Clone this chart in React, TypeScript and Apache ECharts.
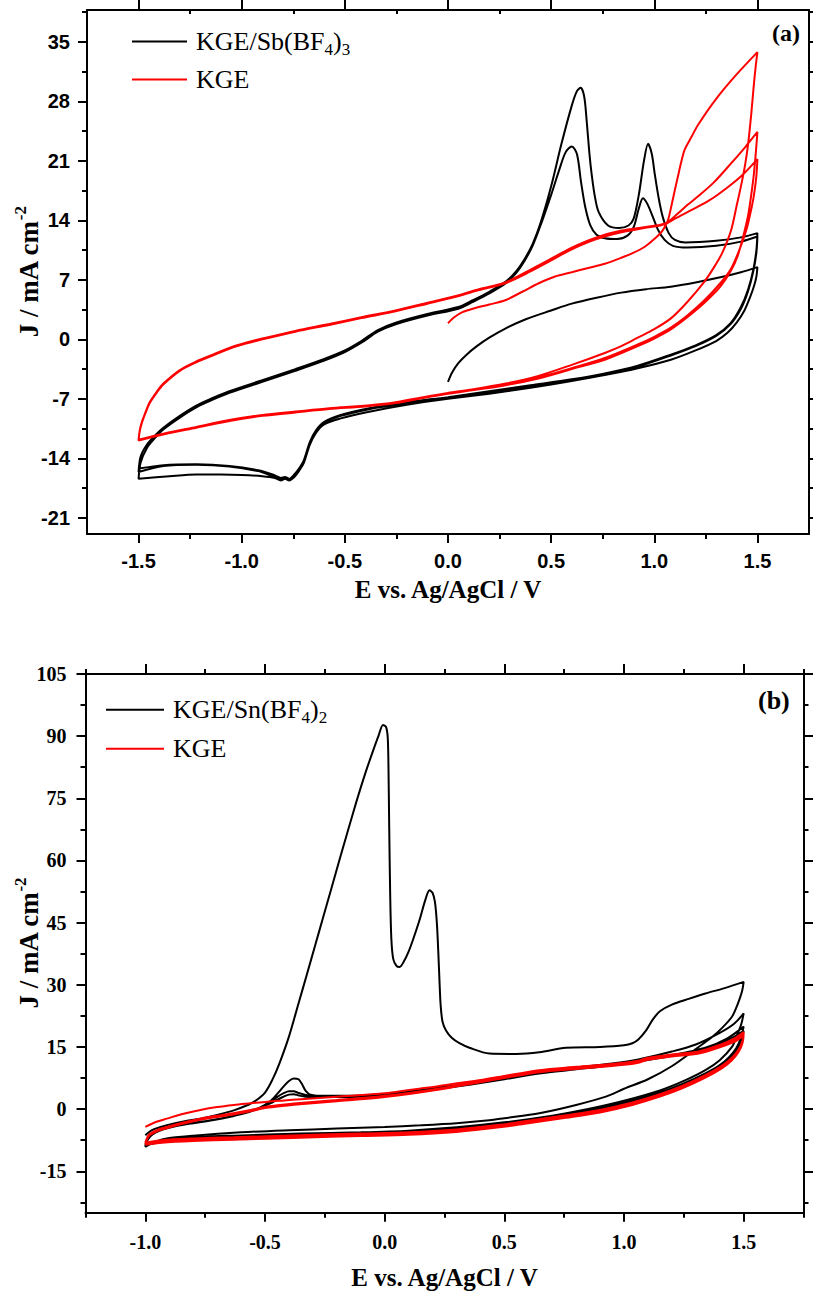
import React, { useEffect, useRef } from 'react';
import * as echarts from 'echarts';

type Pt = [number, number];

// ---------- Panel (a): potential sweeps, E (V) vs J (mA cm^-2) ----------
// KGE/Sb(BF4)3
const sbStartSweep: Pt[] = [[0.0,-5.0],[0.02,-3.9],[0.05,-2.8],[0.09,-1.8],[0.14,-0.8],[0.2,0.2],[0.28,1.3],[0.38,2.4],[0.5,3.4],[0.6,4.2],[0.72,4.9],[0.84,5.5],[0.96,5.9],[1.08,6.2],[1.2,6.7],[1.32,7.3],[1.42,7.9],[1.5,8.5]];
const sbReturn1: Pt[] = [[1.5,8.5],[1.495,7.4],[1.485,6.4],[1.465,5.0],[1.437,3.4],[1.4,2.0],[1.356,0.8],[1.3,-0.2],[1.2,-1.3],[1.08,-2.4],[0.92,-3.4],[0.76,-4.2],[0.6,-4.9],[0.4,-5.7],[0.2,-6.4],[0.0,-7.0],[-0.2,-7.7],[-0.4,-8.6],[-0.52,-9.3],[-0.6,-10.0],[-0.64,-11.0],[-0.67,-12.4],[-0.7,-14.6],[-0.72,-15.4],[-0.745,-16.2],[-0.77,-16.6],[-0.79,-16.4],[-0.81,-16.6],[-0.84,-16.3],[-0.9,-16.1],[-1.0,-15.95],[-1.1,-15.9],[-1.22,-15.9],[-1.35,-16.1],[-1.5,-16.4]];
const sbSweep1: Pt[] = [[-1.5,-16.4],[-1.49,-14.5],[-1.46,-12.8],[-1.42,-11.6],[-1.38,-10.6],[-1.3,-9.2],[-1.22,-8.0],[-1.14,-7.1],[-1.06,-6.3],[-0.9,-5.0],[-0.74,-3.7],[-0.6,-2.5],[-0.5,-1.5],[-0.42,-0.4],[-0.34,0.9],[-0.25,1.8],[-0.1,2.8],[0.05,3.6],[0.12,4.4],[0.2,5.4],[0.28,6.6],[0.33,7.8],[0.37,9.2],[0.41,11.0],[0.45,13.5],[0.5,17.0],[0.54,20.0],[0.57,22.0],[0.6,22.7],[0.625,21.8],[0.645,18.5],[0.665,15.6],[0.69,13.4],[0.72,12.3],[0.76,11.9],[0.82,11.8],[0.87,12.2],[0.9,13.2],[0.925,15.4],[0.945,16.6],[0.965,16.0],[0.99,14.6],[1.02,12.8],[1.05,11.7],[1.09,11.0],[1.16,10.8],[1.3,11.0],[1.42,11.5],[1.5,12.1]];
const sbReturn2: Pt[] = [[1.5,12.1],[1.495,10.2],[1.48,8.0],[1.455,5.7],[1.42,3.6],[1.37,1.8],[1.3,0.4],[1.2,-0.8],[1.08,-1.9],[0.92,-3.2],[0.76,-4.1],[0.6,-4.8],[0.4,-5.5],[0.2,-6.2],[0.0,-6.9],[-0.2,-7.5],[-0.4,-8.3],[-0.52,-9.0],[-0.6,-9.8],[-0.64,-10.8],[-0.67,-12.2],[-0.7,-14.4],[-0.72,-15.2],[-0.745,-16.0],[-0.77,-16.5],[-0.79,-16.3],[-0.81,-16.4],[-0.86,-16.0],[-0.92,-15.5],[-1.06,-14.95],[-1.22,-14.75],[-1.38,-14.9],[-1.5,-15.6]];
const sbSweep2: Pt[] = [[-1.5,-15.6],[-1.49,-13.8],[-1.46,-12.4],[-1.42,-11.3],[-1.38,-10.4],[-1.3,-9.0],[-1.22,-7.8],[-1.14,-6.9],[-1.06,-6.1],[-0.9,-4.8],[-0.74,-3.5],[-0.6,-2.3],[-0.5,-1.3],[-0.42,-0.2],[-0.34,1.1],[-0.25,2.0],[-0.1,3.0],[0.05,3.8],[0.12,4.6],[0.2,5.6],[0.28,6.8],[0.33,8.0],[0.37,9.4],[0.41,11.2],[0.45,13.8],[0.5,18.0],[0.55,23.0],[0.6,27.5],[0.625,29.2],[0.643,29.6],[0.66,28.6],[0.672,25.8],[0.685,22.0],[0.696,19.5],[0.712,16.8],[0.73,15.0],[0.776,13.4],[0.83,13.1],[0.875,13.4],[0.9,14.2],[0.925,17.0],[0.95,21.0],[0.97,23.0],[0.988,21.8],[1.002,19.5],[1.02,16.8],[1.04,14.5],[1.07,12.5],[1.1,11.7],[1.15,11.4],[1.3,11.6],[1.42,12.0],[1.5,12.5]];
const sbReturn3: Pt[] = [[1.5,12.5],[1.495,10.5],[1.48,8.2],[1.455,5.9],[1.42,3.8],[1.37,1.9],[1.3,0.5],[1.2,-0.7],[1.08,-1.8],[0.92,-3.1],[0.76,-4.0],[0.6,-4.7],[0.4,-5.4],[0.2,-6.1],[0.0,-6.8],[-0.2,-7.4],[-0.4,-8.2],[-0.52,-8.9],[-0.6,-9.7],[-0.64,-10.7],[-0.67,-12.1],[-0.7,-14.3],[-0.72,-15.1],[-0.745,-15.9],[-0.77,-16.4],[-0.79,-16.2],[-0.81,-16.3],[-0.85,-15.9],[-0.92,-15.4],[-1.06,-14.9],[-1.22,-14.7],[-1.38,-14.8],[-1.5,-15.2]];

// KGE
const kgeStartSweep: Pt[] = [[0.0,1.9],[0.03,2.6],[0.07,3.2],[0.12,3.6],[0.2,4.1],[0.277,4.6],[0.36,5.6],[0.44,6.6],[0.519,7.4],[0.6,7.9],[0.68,8.4],[0.76,8.9],[0.84,9.6],[0.9,10.2],[0.954,10.9],[1.0,11.8],[1.04,12.8],[1.066,14.0],[1.082,15.6],[1.1,17.6],[1.114,19.1],[1.13,20.8],[1.147,22.3],[1.18,23.8],[1.211,25.2],[1.3,28.3],[1.4,31.2],[1.5,33.8]];
const kgeReturn1: Pt[] = [[1.5,33.8],[1.492,32.2],[1.482,29.8],[1.47,26.5],[1.455,23.0],[1.44,20.5],[1.42,18.0],[1.4,15.8],[1.372,12.8],[1.33,10.2],[1.29,8.5],[1.243,6.8],[1.16,4.4],[1.082,2.5],[1.0,1.2],[0.92,0.2],[0.84,-0.8],[0.76,-1.6],[0.6,-3.0],[0.438,-4.3],[0.28,-5.2],[0.116,-5.9],[0.0,-6.3],[-0.12,-6.8],[-0.254,-7.4],[-0.4,-7.8],[-0.576,-8.1],[-0.74,-8.5],[-0.899,-8.9],[-1.06,-9.5],[-1.22,-10.3],[-1.38,-11.1],[-1.5,-11.8]];
const kgeSweep1: Pt[] = [[-1.5,-11.8],[-1.495,-10.8],[-1.485,-9.8],[-1.47,-8.8],[-1.446,-7.4],[-1.41,-6.1],[-1.38,-5.2],[-1.3,-3.6],[-1.22,-2.6],[-1.14,-1.8],[-1.06,-1.0],[-0.98,-0.4],[-0.899,0.1],[-0.74,1.0],[-0.576,1.8],[-0.42,2.6],[-0.254,3.4],[-0.1,4.3],[0.052,5.2],[0.15,5.9],[0.277,6.7],[0.4,8.2],[0.5,9.5],[0.6,10.8],[0.72,12.0],[0.841,12.8],[0.95,13.2],[1.03,13.5],[1.066,13.8],[1.114,14.8],[1.16,15.8],[1.211,16.8],[1.29,18.5],[1.372,20.7],[1.44,22.6],[1.5,24.4]];
const kgeReturn2: Pt[] = [[1.5,24.4],[1.493,22.2],[1.483,19.5],[1.47,17.0],[1.455,14.6],[1.43,12.0],[1.404,9.8],[1.37,8.0],[1.32,6.2],[1.243,4.3],[1.16,2.6],[1.082,1.2],[1.0,0.1],[0.92,-0.8],[0.76,-2.4],[0.6,-3.5],[0.438,-4.6],[0.28,-5.4],[0.116,-6.0],[0.0,-6.4],[-0.12,-6.9],[-0.254,-7.5],[-0.4,-7.9],[-0.576,-8.2],[-0.74,-8.6],[-0.899,-9.0],[-1.06,-9.6],[-1.22,-10.4],[-1.38,-11.2],[-1.5,-11.9]];
const kgeSweep2: Pt[] = [[-1.5,-11.9],[-1.495,-10.9],[-1.485,-9.9],[-1.47,-8.9],[-1.446,-7.5],[-1.41,-6.2],[-1.38,-5.3],[-1.3,-3.7],[-1.22,-2.7],[-1.14,-1.9],[-1.06,-1.1],[-0.98,-0.5],[-0.899,0.0],[-0.74,0.9],[-0.576,1.7],[-0.42,2.5],[-0.254,3.3],[-0.1,4.2],[0.052,5.1],[0.15,5.8],[0.277,6.6],[0.4,8.0],[0.5,9.3],[0.6,10.6],[0.72,11.8],[0.841,12.6],[0.95,13.1],[1.03,13.4],[1.066,13.7],[1.1,14.2],[1.179,15.2],[1.27,16.4],[1.356,17.9],[1.43,19.4],[1.5,21.2]];
const kgeReturn3: Pt[] = [[1.5,21.2],[1.494,19.0],[1.482,16.8],[1.469,15.2],[1.45,13.2],[1.42,11.0],[1.372,8.3],[1.32,6.6],[1.243,4.6],[1.16,2.8],[1.082,1.4],[1.0,0.3],[0.92,-0.6],[0.76,-2.2],[0.6,-3.4],[0.438,-4.5],[0.28,-5.3],[0.116,-5.95],[0.0,-6.35],[-0.254,-7.45],[-0.576,-8.15],[-0.899,-8.95],[-1.22,-10.35],[-1.38,-11.15],[-1.5,-11.85]];

// ---------- Panel (b) ----------
// KGE/Sn(BF4)2
const snStartSweep: Pt[] = [[-1.0,-6.3],[-0.97,-5.0],[-0.91,-3.9],[-0.84,-3.0],[-0.77,-2.3],[-0.7,-1.4],[-0.63,-0.3],[-0.58,0.8],[-0.54,2.0],[-0.5,4.0],[-0.47,7.0],[-0.44,11.0],[-0.4,17.5],[-0.36,25.5],[-0.326,32.3],[-0.29,39.6],[-0.257,46.3],[-0.22,53.8],[-0.1875,60.4],[-0.15,67.9],[-0.118,74.2],[-0.08,81.2],[-0.049,86.4],[-0.025,90.2],[-0.007,92.7],[0.006,92.2],[0.013,89.5],[0.016,82.0],[0.019,68.0],[0.023,52.0],[0.028,41.0],[0.036,36.2],[0.05,34.5],[0.0625,34.3],[0.08,35.6],[0.1,38.0],[0.118,40.8],[0.145,45.5],[0.17,50.5],[0.1875,52.8],[0.2,52.2],[0.21,50.0],[0.218,45.0],[0.224,38.0],[0.229,31.0],[0.234,25.0],[0.242,21.0],[0.257,18.9],[0.28,17.2],[0.3125,15.9],[0.354,14.8],[0.4375,13.4],[0.55,13.3],[0.646,13.7],[0.757,14.8],[0.9,15.0],[1.0,15.4],[1.035,15.9],[1.06,16.8],[1.09,18.8],[1.12,21.6],[1.15,23.6],[1.2,25.2],[1.27,26.6],[1.34,27.9],[1.42,29.2],[1.5,30.7]];
const snReturn1: Pt[] = [[1.5,30.7],[1.494,28.6],[1.486,27.1],[1.47,24.6],[1.451,22.3],[1.41,19.6],[1.368,17.4],[1.3,14.5],[1.201,10.4],[1.1,7.2],[1.0,4.9],[0.924,3.0],[0.8,1.0],[0.646,-1.0],[0.5,-2.2],[0.4375,-2.7],[0.3,-3.4],[0.15,-3.9],[0.0,-4.3],[-0.2,-4.7],[-0.4,-5.1],[-0.6,-5.6],[-0.8,-6.4],[-0.9,-7.0],[-0.96,-7.9],[-1.0,-9.1]];
const snSweep1: Pt[] = [[-1.0,-9.1],[-0.99,-7.4],[-0.97,-6.1],[-0.93,-5.0],[-0.87,-4.1],[-0.8,-3.4],[-0.72,-2.7],[-0.64,-1.8],[-0.57,-0.8],[-0.52,0.4],[-0.48,1.8],[-0.45,3.6],[-0.42,5.6],[-0.4,6.8],[-0.38,7.4],[-0.36,7.2],[-0.345,6.0],[-0.33,4.4],[-0.31,3.5],[-0.25,3.2],[-0.1,3.3],[0.0,3.6],[0.1,4.2],[0.229,5.2],[0.354,6.2],[0.5,7.6],[0.646,9.0],[0.8,10.0],[0.95,11.0],[1.06,12.0],[1.2,13.9],[1.3,15.6],[1.4,18.4],[1.46,20.6],[1.5,23.1]];
const snReturn2: Pt[] = [[1.5,23.1],[1.49,20.5],[1.47,17.5],[1.451,15.0],[1.4,11.8],[1.34,9.4],[1.25,6.8],[1.15,4.5],[1.0,2.0],[0.85,0.0],[0.7,-1.6],[0.5,-3.2],[0.3,-4.4],[0.1,-5.2],[-0.1,-5.6],[-0.35,-5.9],[-0.63,-6.4],[-0.85,-7.0],[-0.95,-7.8],[-1.0,-8.8]];
const snSweep2: Pt[] = [[-1.0,-8.8],[-0.99,-7.1],[-0.97,-5.9],[-0.93,-4.9],[-0.87,-4.0],[-0.8,-3.3],[-0.72,-2.6],[-0.64,-1.7],[-0.57,-0.7],[-0.52,0.4],[-0.48,1.6],[-0.45,2.9],[-0.42,3.9],[-0.4,4.3],[-0.38,4.3],[-0.36,3.9],[-0.33,3.4],[-0.3,3.1],[-0.2,3.0],[-0.1,3.1],[0.0,3.4],[0.1,4.0],[0.229,5.0],[0.354,6.0],[0.5,7.3],[0.646,8.7],[0.8,9.7],[0.95,10.7],[1.06,11.6],[1.2,13.0],[1.34,14.8],[1.43,17.0],[1.5,19.9]];
const snReturn3: Pt[] = [[1.5,19.9],[1.49,17.5],[1.47,14.8],[1.44,12.6],[1.4,10.6],[1.34,8.6],[1.25,6.2],[1.15,4.0],[1.0,1.6],[0.85,-0.4],[0.7,-2.0],[0.5,-3.6],[0.3,-4.8],[0.1,-5.5],[-0.1,-5.9],[-0.35,-6.2],[-0.63,-6.7],[-0.85,-7.3],[-0.95,-8.0],[-1.0,-8.9]];
const snSweep3: Pt[] = [[-1.0,-8.9],[-0.99,-7.2],[-0.97,-5.9],[-0.93,-4.9],[-0.87,-4.0],[-0.8,-3.3],[-0.72,-2.6],[-0.64,-1.7],[-0.57,-0.7],[-0.52,0.4],[-0.47,1.6],[-0.43,2.8],[-0.4,3.5],[-0.38,3.6],[-0.36,3.3],[-0.33,3.0],[-0.25,2.9],[-0.1,3.0],[0.0,3.3],[0.1,3.9],[0.229,4.9],[0.354,5.9],[0.5,7.2],[0.646,8.6],[0.8,9.6],[0.95,10.6],[1.06,11.5],[1.2,12.9],[1.34,14.6],[1.43,16.5],[1.5,18.9]];
const snReturn4: Pt[] = [[1.5,18.9],[1.49,16.6],[1.47,14.2],[1.44,12.0],[1.4,10.1],[1.34,8.2],[1.25,5.9],[1.15,3.8],[1.0,1.4],[0.85,-0.6],[0.7,-2.2],[0.5,-3.8],[0.3,-5.0],[0.1,-5.7],[-0.1,-6.0],[-0.35,-6.3],[-0.63,-6.8],[-0.85,-7.4],[-0.95,-8.1],[-1.0,-8.7]];

// KGE
const kgeBStartSweep: Pt[] = [[-1.0,-4.3],[-0.95,-3.0],[-0.91,-2.3],[-0.84,-1.1],[-0.77,-0.2],[-0.7,0.5],[-0.63,1.0],[-0.56,1.4],[-0.49,1.8],[-0.42,2.1],[-0.35,2.4],[-0.2,3.0],[0.0,3.8],[0.229,5.6],[0.4,7.0],[0.5,8.0],[0.646,9.4],[0.8,10.2],[1.0,11.2],[1.06,11.7],[1.1,12.4],[1.2,13.2],[1.3125,13.9],[1.4,15.5],[1.46,17.0],[1.5,18.6]];
const kgeBReturn1: Pt[] = [[1.5,18.6],[1.495,16.5],[1.48,14.5],[1.451,12.4],[1.41,10.5],[1.34,8.2],[1.243,5.6],[1.15,3.6],[1.035,1.6],[0.9,-0.2],[0.757,-1.5],[0.6,-2.8],[0.479,-3.8],[0.3,-4.9],[0.1,-5.6],[-0.1,-5.9],[-0.354,-6.3],[-0.632,-6.8],[-0.8,-7.1],[-0.93,-7.5],[-1.0,-8.1]];
const kgeBSweep1: Pt[] = [[-1.0,-8.1],[-0.99,-6.6],[-0.979,-5.9],[-0.95,-5.0],[-0.91,-4.3],[-0.84,-3.2],[-0.771,-2.3],[-0.7,-1.6],[-0.632,-1.0],[-0.56,-0.2],[-0.493,0.6],[-0.42,1.1],[-0.354,1.5],[-0.2,2.2],[0.0,3.2],[0.229,5.0],[0.4,6.8],[0.5,7.8],[0.646,9.2],[0.8,10.0],[1.0,11.0],[1.06,11.5],[1.1,12.2],[1.2,13.0],[1.3125,13.7],[1.4,15.2],[1.46,16.6],[1.5,18.2]];
const kgeBReturn2: Pt[] = [[1.5,18.2],[1.495,16.2],[1.48,14.2],[1.451,12.1],[1.41,10.2],[1.34,7.9],[1.243,5.3],[1.15,3.3],[1.035,1.3],[0.9,-0.5],[0.757,-1.8],[0.6,-3.1],[0.479,-4.1],[0.3,-5.2],[0.1,-5.9],[-0.1,-6.2],[-0.354,-6.6],[-0.632,-7.1],[-0.8,-7.4],[-0.93,-7.8],[-1.0,-8.4]];
const kgeBSweep2: Pt[] = [[-1.0,-8.4],[-0.99,-6.9],[-0.979,-6.2],[-0.95,-5.3],[-0.91,-4.6],[-0.84,-3.5],[-0.771,-2.6],[-0.7,-1.9],[-0.632,-1.3],[-0.56,-0.5],[-0.493,0.3],[-0.42,0.8],[-0.354,1.2],[-0.2,1.9],[0.0,2.9],[0.229,4.7],[0.4,6.5],[0.5,7.5],[0.646,8.9],[0.8,9.7],[1.0,10.7],[1.06,11.2],[1.1,11.9],[1.2,12.7],[1.3125,13.4],[1.4,14.9],[1.46,16.2],[1.5,17.8]];
const kgeBReturn3: Pt[] = [[1.5,17.8],[1.495,15.9],[1.48,13.9],[1.451,11.8],[1.41,9.9],[1.34,7.6],[1.243,5.0],[1.15,3.0],[1.035,1.0],[0.9,-0.8],[0.757,-2.1],[0.6,-3.4],[0.479,-4.4],[0.3,-5.5],[0.1,-6.2],[-0.1,-6.5],[-0.354,-6.9],[-0.632,-7.4],[-0.8,-7.7],[-0.93,-8.1],[-1.0,-8.6]];

// ---------- Tick values ----------
const aMajorE = [-1.5, -1.0, -0.5, 0, 0.5, 1.0, 1.5];
const aMinorE = [-1.25, -0.75, -0.25, 0.25, 0.75, 1.25];
const aMajorJ = [-21, -14, -7, 0, 7, 14, 21, 28, 35];
const aMinorJ = [-17.5, -10.5, -3.5, 3.5, 10.5, 17.5, 24.5, 31.5, 38.5];
const bMajorE = [-1.0, -0.5, 0, 0.5, 1.0, 1.5];
const bMinorE = [-1.25, -0.75, -0.25, 0.25, 0.75, 1.25, 1.75];
const bMajorJ = [-15, 0, 15, 30, 45, 60, 75, 90, 105];
const bMinorJ = [-22.5, -7.5, 7.5, 22.5, 37.5, 52.5, 67.5, 82.5, 97.5];

const INK = '#000000';
const RED = '#ff0000';
const SERIF = '"Liberation Serif", "Times New Roman", serif';
const SANS = '"Liberation Sans", Arial, sans-serif';

const xTitleFont = { fontFamily: SERIF, fontWeight: 'bold', fontSize: 25, color: INK };
const jName = 'J / mA cm{sup|-2}';
const jNameStyle = {
  fontFamily: SERIF, fontWeight: 'bold', fontSize: 27, color: INK,
  rich: { sup: { fontFamily: SERIF, fontWeight: 'bold', fontSize: 17, color: INK, padding: [0, 0, 16, 0] } },
};

function xAxes(grid: number, min: number, max: number, major: number[], minor: number[], labelFont: any, labelMargin: number, nameGap: number, topMinorInside: boolean) {
  const frame = { show: true, onZero: false, lineStyle: { color: INK, width: 2 } };
  const tickLine = { color: INK, width: 2 };
  const base = { type: 'value', gridIndex: grid, min, max, splitLine: { show: false }, axisLine: { show: false, onZero: false }, axisLabel: { show: false } };
  return [
    {
      ...base, position: 'bottom', axisLine: frame,
      axisTick: { show: true, customValues: major, length: 9, lineStyle: tickLine },
      axisLabel: { show: true, customValues: major, margin: labelMargin, formatter: (v: number) => v.toFixed(1), ...labelFont },
      name: 'E vs. Ag/AgCl / V', nameLocation: 'middle', nameGap, nameMoveOverlap: false, nameTextStyle: xTitleFont,
    },
    { ...base, position: 'bottom', axisTick: { show: true, customValues: minor, length: 5, lineStyle: tickLine } },
    { ...base, position: 'top', axisLine: frame, axisTick: { show: true, customValues: major, length: 10, lineStyle: tickLine } },
    { ...base, position: 'top', axisTick: { show: true, inside: topMinorInside, customValues: minor, length: topMinorInside ? 4 : 5, lineStyle: tickLine } },
  ];
}

function yAxes(grid: number, min: number, max: number, major: number[], minor: number[], labelFont: any, labelMargin: number, nameGap: number) {
  const frame = { show: true, onZero: false, lineStyle: { color: INK, width: 2 } };
  const tickLine = { color: INK, width: 2 };
  const base = { type: 'value', gridIndex: grid, min, max, splitLine: { show: false }, axisLine: { show: false, onZero: false }, axisLabel: { show: false } };
  return [
    {
      ...base, position: 'left', axisLine: frame,
      axisTick: { show: true, customValues: major, length: 9, lineStyle: tickLine },
      axisLabel: { show: true, customValues: major, margin: labelMargin, formatter: (v: number) => String(v), ...labelFont },
      name: jName, nameLocation: 'middle', nameRotate: 90, nameGap, nameMoveOverlap: false, nameTextStyle: jNameStyle,
    },
    { ...base, position: 'left', axisTick: { show: true, customValues: minor, length: 5, lineStyle: tickLine } },
    { ...base, position: 'right', axisLine: frame, axisTick: { show: true, customValues: major, length: 10, lineStyle: tickLine } },
    { ...base, position: 'right', axisTick: { show: true, customValues: minor, length: 5, lineStyle: tickLine } },
  ];
}

function trace(name: string, color: string, xi: number, yi: number, data: Pt[]) {
  return {
    type: 'line', name, xAxisIndex: xi, yAxisIndex: yi, data,
    symbol: 'none', showSymbol: false, smooth: 0.3, animation: false,
    lineStyle: { color, width: 2 }, itemStyle: { color },
  };
}

const legendText = (rich: any) => ({
  fontFamily: SERIF, fontSize: 26, color: INK, padding: [0, 0, 0, 4],
  rich,
});
const subStyle = { fontFamily: SERIF, fontSize: 17, color: INK, padding: [16, 0, 0, 0] };
const bodyStyle = { fontFamily: SERIF, fontSize: 26, color: INK };

export default function App() {
  const ref = useRef<HTMLDivElement>(null);
  useEffect(() => {
    if (!ref.current) return;
    const chart = echarts.init(ref.current, undefined, { renderer: 'svg' });
    const sbTrace = [...sbStartSweep, ...sbReturn1, ...sbSweep1, ...sbReturn2, ...sbSweep2, ...sbReturn3];
    const kgeATrace = [...kgeStartSweep, ...kgeReturn1, ...kgeSweep1, ...kgeReturn2, ...kgeSweep2, ...kgeReturn3];
    const snTrace = [...snStartSweep, ...snReturn1, ...snSweep1, ...snReturn2, ...snSweep2, ...snReturn3, ...snSweep3, ...snReturn4];
    const kgeBTrace = [...kgeBStartSweep, ...kgeBReturn1, ...kgeBSweep1, ...kgeBReturn2, ...kgeBSweep2, ...kgeBReturn3];

    const aTick = { fontFamily: SANS, fontWeight: 'bold', fontSize: 20, color: INK };
    const bTick = { fontFamily: SERIF, fontWeight: 'bold', fontSize: 20, color: INK };

    chart.setOption({
      animation: false,
      backgroundColor: '#ffffff',
      grid: [
        { left: 87, top: 10, width: 722, height: 524, outerBoundsMode: 'none', containLabel: false },
        { left: 85.5, top: 674, width: 718, height: 538.7, outerBoundsMode: 'none', containLabel: false },
      ],
      xAxis: [
        ...xAxes(0, -1.75, 1.75, aMajorE, aMinorE, aTick, 17, 43, true),
        ...xAxes(1, -1.25, 1.75, bMajorE, bMinorE, bTick, 19, 52, false),
      ],
      yAxis: [
        ...yAxes(0, -22.9, 38.75, aMajorJ, aMinorJ, aTick, 17, 42),
        ...yAxes(1, -25, 105, bMajorJ, bMinorJ, bTick, 19, 40.5),
      ],
      legend: [
        {
          data: ['KGE/Sb(BF4)3', 'KGE'], orient: 'vertical', left: 132, top: 28.5, padding: 0,
          itemWidth: 55, itemHeight: 2, itemGap: 8.5, icon: 'rect', selectedMode: false,
          textStyle: legendText({ s: subStyle, m: bodyStyle }),
          formatter: (n: string) => (n === 'KGE' ? 'KGE' : '{m|KGE/Sb(BF}{s|4}{m|)}{s|3}'),
        },
        {
          data: ['KGE/Sn(BF4)2', 'KGE'], orient: 'vertical', left: 106, top: 696.8, padding: 0,
          itemWidth: 58, itemHeight: 2, itemGap: 9.5, icon: 'rect', selectedMode: false,
          textStyle: legendText({ s: subStyle, m: bodyStyle }),
          formatter: (n: string) => (n === 'KGE' ? 'KGE' : '{m|KGE/Sn(BF}{s|4}{m|)}{s|2}'),
        },
      ],
      graphic: [
        { type: 'text', left: 772, top: 21, style: { text: '(a)', font: `bold 24px ${SERIF}`, fill: INK } },
        { type: 'text', left: 758, top: 687, style: { text: '(b)', font: `bold 26px ${SERIF}`, fill: INK } },
      ],
      series: [
        trace('KGE/Sb(BF4)3', INK, 0, 0, sbTrace),
        trace('KGE', RED, 0, 0, kgeATrace),
        trace('KGE/Sn(BF4)2', INK, 4, 4, snTrace),
        trace('KGE', RED, 4, 4, kgeBTrace),
      ],
    });
    return () => chart.dispose();
  }, []);

  return <div ref={ref} style={{ position: 'absolute', left: 0, top: 0, width: 813, height: 1296, background: '#fff' }} />;
}
